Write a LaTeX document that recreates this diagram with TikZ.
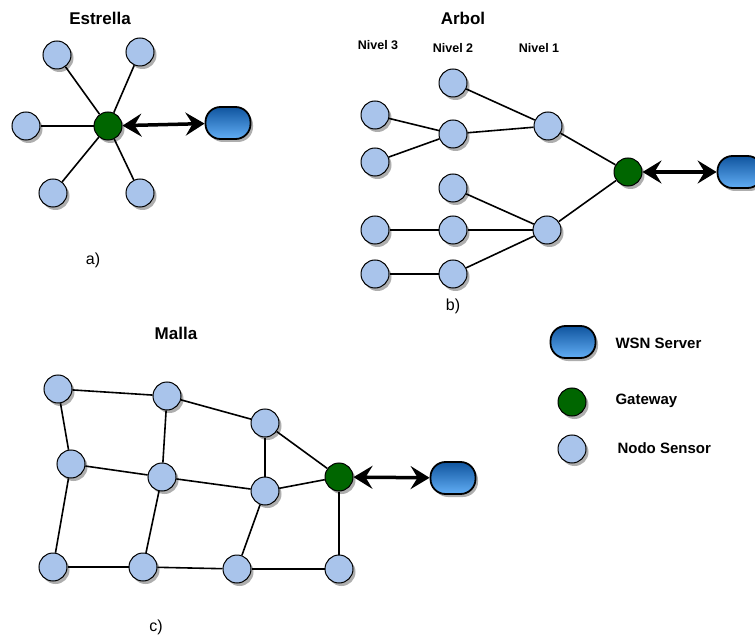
\documentclass[tikz,border=0pt]{standalone}
\usepackage{fontspec}
\setmainfont{Liberation Sans}
\usetikzlibrary{arrows.meta,shadows}

\definecolor{sensorblue}{HTML}{A9C4EB}
\definecolor{gwgreen}{HTML}{006600}
\definecolor{srvtop}{HTML}{10559F}
\definecolor{srvbottom}{HTML}{62AEF5}

\begin{document}
\begin{tikzpicture}[x=1pt,y=-1pt,
  nodeshadow/.style={drop shadow={shadow xshift=2.5pt,shadow yshift=-3pt,opacity=0.45,fill=black!70}},
  sensor/.style={circle,draw=black,line width=1pt,fill=sensorblue,
    minimum size=28pt,inner sep=0pt,nodeshadow},
  gw/.style={sensor,fill=gwgreen},
  server/.style={rectangle,rounded corners=15pt,draw=black,line width=1.8pt,
    minimum width=45pt,minimum height=32pt,inner sep=0pt,
    top color=srvtop,bottom color=srvbottom,nodeshadow},
  link/.style={line width=1.6pt},
  bigtip/.tip={Stealth[length=19pt 0 0,width=23pt 0 0,inset=7pt 0]},
  dlink/.style={line width=3.5pt,{bigtip}-{bigtip}},
  title/.style={font=\bfseries\fontsize{17}{20}\selectfont},
  level/.style={font=\bfseries\fontsize{12.5}{15}\selectfont},
  legend/.style={font=\bfseries\fontsize{15}{18}\selectfont,anchor=west},
  caption/.style={font=\fontsize{16}{19}\selectfont}
]
\useasboundingbox (0,0) rectangle (755,636);
\clip (0,0) rectangle (755,636);

% ---------- a) star topology ----------
\node[title] (tA) at (100,18) {Estrella};
\node[sensor] (s1) at (57,55) {};
\node[sensor] (s2) at (140,52) {};
\node[sensor] (s3) at (26,126) {};
\node[sensor] (s4) at (53,193) {};
\node[sensor] (s5) at (140,193) {};
\node[gw] (gA) at (108,126) {};
\node[server] (vA) at (228,123) {};
\foreach \n in {s1,s2,s3,s4,s5} \draw[link] (gA) -- (\n);
\draw[dlink] (gA) -- (vA);
\node[caption] (cA) at (93,260) {a)};

% ---------- b) tree topology ----------
\node[title] (tB) at (463,18) {Arbol};
\node[level] (l3) at (378,45) {Nivel 3};
\node[level] (l2) at (453,48) {Nivel 2};
\node[level] (l1) at (539,48) {Nivel 1};
\node[sensor] (t2a) at (453,83) {};
\node[sensor] (t3a) at (375,115) {};
\node[sensor] (t2b) at (453,134) {};
\node[sensor] (t1a) at (548,126) {};
\node[sensor] (t3b) at (375,162) {};
\node[sensor] (t2c) at (453,188) {};
\node[sensor] (t3c) at (375,230) {};
\node[sensor] (t2d) at (453,230) {};
\node[sensor] (t1b) at (547,230) {};
\node[sensor] (t3d) at (375,274) {};
\node[sensor] (t2e) at (453,274) {};
\node[gw] (gB) at (628,172) {};
\node[server] (vB) at (740,172) {};
\draw[link] (t2a) -- (t1a);
\draw[link] (t3a) -- (t2b);
\draw[link] (t3b) -- (t2b);
\draw[link] (t2b) -- (t1a);
\draw[link] (t2c) -- (t1b);
\draw[link] (t3c) -- (t2d);
\draw[link] (t2d) -- (t1b);
\draw[link] (t3d) -- (t2e);
\draw[link] (t2e) -- (t1b);
\draw[link] (t1a) -- (gB);
\draw[link] (t1b) -- (gB);
\draw[dlink] (gB) -- (vB);
\node[caption] (cB) at (453,306) {b)};

% ---------- c) mesh topology ----------
\node[title] (tC) at (176,333) {Malla};
\node[sensor] (m11) at (58,389) {};
\node[sensor] (m12) at (167,396) {};
\node[sensor] (m13) at (265,423) {};
\node[sensor] (m21) at (71,464) {};
\node[sensor] (m22) at (162,477) {};
\node[sensor] (m23) at (265,491) {};
\node[sensor] (m31) at (53,567) {};
\node[sensor] (m32) at (143,567) {};
\node[sensor] (m33) at (237,569) {};
\node[sensor] (m34) at (339,569) {};
\node[gw] (gC) at (339,477) {};
\node[server] (vC) at (453,478) {};
\draw[link] (m11) -- (m12);
\draw[link] (m12) -- (m13);
\draw[link] (m13) -- (gC);
\draw[link] (m11) -- (m21);
\draw[link] (m12) -- (m22);
\draw[link] (m13) -- (m23);
\draw[link] (m21) -- (m22);
\draw[link] (m22) -- (m23);
\draw[link] (m23) -- (gC);
\draw[link] (m21) -- (m31);
\draw[link] (m22) -- (m32);
\draw[link] (m23) -- (m33);
\draw[link] (gC) -- (m34);
\draw[link] (m31) -- (m32);
\draw[link] (m32) -- (m33);
\draw[link] (m33) -- (m34);
\draw[dlink] (gC) -- (vC);
\node[caption] (cC) at (156,627) {c)};

% ---------- legend ----------
\node[server] (kS) at (573,342) {};
\node[legend] (kSt) at (612,343) {WSN Server};
\node[gw] (kG) at (572,402) {};
\node[legend] (kGt) at (612,401) {Gateway};
\node[sensor] (kN) at (572,449) {};
\node[legend] (kNt) at (614,448) {Nodo Sensor};
\end{tikzpicture}
\end{document}
